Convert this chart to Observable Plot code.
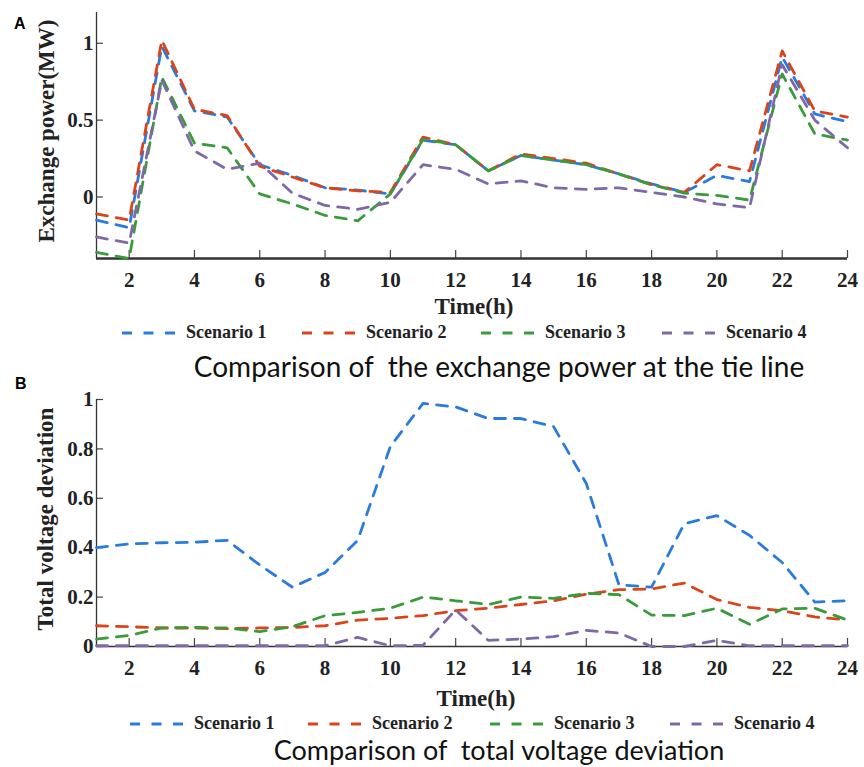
<!DOCTYPE html>
<html><head><meta charset="utf-8">
<script src="https://cdn.jsdelivr.net/npm/d3@7"></script>
<script src="https://cdn.jsdelivr.net/npm/@observablehq/plot@0.6"></script>
<style>
body{margin:0;background:#fff}
#wrap{position:relative;width:864px;height:767px;overflow:hidden;background:#fff}
.abs{position:absolute;white-space:pre}
.ser{font-family:"Liberation Serif",serif;font-weight:bold;color:#222}
.ttl{font-family:Lato,sans-serif;color:#111}
.lab{font-family:"Liberation Sans",Arial,sans-serif;font-weight:bold;font-size:16px;color:#000}
svg.plot{position:absolute;left:0}
svg.plot text{font-family:"Liberation Serif",serif;font-weight:bold}
</style></head>
<body><div id="wrap"></div>
<script>
const hours = [1,2,3,4,5,6,7,8,9,10,11,12,13,14,15,16,17,18,19,20,21,22,23,24];
const xTicks = [2,4,6,8,10,12,14,16,18,20,22,24];
const scenarioNames = ["Scenario 1","Scenario 2","Scenario 3","Scenario 4"];
const colors = ["#2a7bde","#d9441a","#3a9b3a","#7f68a8"];

// Panel A: exchange power at the tie line (MW)
const powerS1 = [-0.15,-0.20,0.98,0.56,0.52,0.21,0.14,0.06,0.045,0.02,0.37,0.34,0.17,0.27,0.24,0.21,0.15,0.085,0.03,0.14,0.10,0.91,0.54,0.49];
const powerS2 = [-0.11,-0.15,1.02,0.57,0.53,0.20,0.13,0.06,0.04,0.03,0.39,0.34,0.17,0.28,0.25,0.22,0.15,0.08,0.03,0.21,0.17,0.95,0.56,0.52];
const powerS3 = [-0.36,-0.40,0.78,0.35,0.32,0.02,-0.045,-0.12,-0.155,0.02,0.375,0.34,0.17,0.27,0.24,0.21,0.15,0.08,0.025,0.01,-0.02,0.80,0.41,0.37];
const powerS4 = [-0.26,-0.30,0.76,0.30,0.18,0.22,0.025,-0.055,-0.08,-0.035,0.21,0.18,0.085,0.105,0.06,0.05,0.06,0.03,0.0,-0.045,-0.07,0.86,0.50,0.32];
const powerTicks = [0,0.5,1];

// Panel B: total voltage deviation
const voltS1 = [0.40,0.415,0.42,0.422,0.43,0.33,0.24,0.30,0.43,0.81,0.984,0.97,0.923,0.923,0.89,0.66,0.25,0.24,0.497,0.53,0.45,0.34,0.18,0.185];
const voltS2 = [0.084,0.08,0.075,0.075,0.072,0.075,0.077,0.084,0.107,0.114,0.125,0.145,0.155,0.17,0.185,0.212,0.23,0.233,0.257,0.19,0.158,0.145,0.12,0.107];
const voltS3 = [0.03,0.045,0.075,0.077,0.075,0.06,0.08,0.125,0.138,0.155,0.2,0.185,0.17,0.2,0.195,0.215,0.21,0.127,0.125,0.155,0.09,0.152,0.155,0.107];
const voltS4 = [0.003,0.003,0.003,0.003,0.003,0.003,0.003,0.003,0.037,0.003,0.005,0.148,0.025,0.03,0.04,0.065,0.055,0.0,0.0,0.025,0.003,0.003,0.003,0.003];
const voltTicks = [0,0.2,0.4,0.6,0.8,1];

const wrap = document.getElementById("wrap");
const serif = "'Liberation Serif', 'Times New Roman', serif";

function toRows(seriesList){
  const rows = [];
  seriesList.forEach((vals, i) => vals.forEach((v, j) => rows.push({h: hours[j], v, s: i})));
  return rows;
}

function panel({series, yDomain, yTicks, top, marginTop, plotH, bottomWidth}){
  const marginLeft = 96, marginRight = 17, marginBottom = 44;
  const width = 864;
  const plotW = width - marginLeft - marginRight;
  const rows = toRows(series);
  const svg = Plot.plot({
    width, height: marginTop + plotH + marginBottom,
    marginLeft, marginRight, marginTop, marginBottom,
    x: {domain: [1, 24]},
    y: {domain: yDomain},
    style: {fontFamily: serif, fontWeight: "bold", fontSize: "21px", color: "#222", background: "transparent", overflow: "visible"},
    marks: [
      Plot.axisX(xTicks, {tickSize: 0, tickPadding: 14, label: null, fontSize: 21, fontFamily: serif, fontWeight: "bold", tickFormat: d => String(d)}),
      Plot.axisY(yTicks, {tickSize: 0, tickPadding: 3, label: null, fontSize: 21, fontFamily: serif, fontWeight: "bold", tickFormat: d => String(d)}),
      Plot.tickX(xTicks, {x: d => d, insetTop: plotH - 8, stroke: "#444", strokeWidth: 1.2}),
      Plot.tickY(yTicks, {y: d => d, insetRight: plotW - 7, stroke: "#444", strokeWidth: 1.2}),
      Plot.ruleX([1], {stroke: "#333", strokeWidth: 1.3}),
      Plot.ruleY([yDomain[0]], {stroke: "#333", strokeWidth: bottomWidth}),
      ...series.map((_, i) => Plot.line(rows.filter(r => r.s === i), {
        x: "h", y: "v", stroke: colors[i], strokeWidth: 2.8, strokeDasharray: "11,9"
      }))
    ]
  });
  svg.classList.add("plot");
  svg.style.top = top + "px";
  wrap.appendChild(svg);
}

function addText(cls, text, style){
  const d = document.createElement("div");
  d.className = "abs " + cls;
  d.textContent = text;
  Object.assign(d.style, style);
  wrap.appendChild(d);
  return d;
}

function centered(cls, text, cx, cy, fontSize){
  return addText(cls, text, {fontSize: fontSize + "px", left: cx + "px", top: cy + "px", transform: "translate(-50%,-50%)", lineHeight: "1"});
}

function yTitle(text, cx, cy){
  addText("ser", text, {fontSize: "23px", left: cx + "px", top: cy + "px", transform: "translate(-50%,-50%) rotate(-90deg)", lineHeight: "1"});
}

function legend(cy, starts){
  scenarioNames.forEach((name, i) => {
    const x = starts[i];
    const s = document.createElementNS("http://www.w3.org/2000/svg", "svg");
    s.setAttribute("width", 56); s.setAttribute("height", 8);
    s.style.position = "absolute"; s.style.left = x + "px"; s.style.top = (cy - 3) + "px";
    s.innerHTML = `<line x1="0" y1="4" x2="53" y2="4" stroke="${colors[i]}" stroke-width="3" stroke-dasharray="10,11.5"/>`;
    wrap.appendChild(s);
    addText("ser", name, {fontSize: "18px", left: (x + 64) + "px", top: cy + "px", transform: "translateY(-50%)", lineHeight: "1"});
  });
}

// Panel A
panel({series: [powerS1, powerS2, powerS3, powerS4], yDomain: [-0.4, 1.2], yTicks: powerTicks, top: 0, marginTop: 12, plotH: 246, bottomWidth: 2.6});
addText("lab", "A", {left: "14px", top: "16px", lineHeight: "1"});
yTitle("Exchange power(MW)", 46, 131);
centered("ser", "Time(h)", 474, 306, 23);
legend(332, [122, 302, 481, 662]);
centered("ttl", "Comparison of  the exchange power at the tie line", 499, 366, 28);

// Panel B
panel({series: [voltS1, voltS2, voltS3, voltS4], yDomain: [0, 1], yTicks: voltTicks, top: 385, marginTop: 14, plotH: 247, bottomWidth: 1.5});
addText("lab", "B", {left: "15px", top: "376px", lineHeight: "1"});
yTitle("Total voltage deviation", 45, 519);
centered("ser", "Time(h)", 476, 698, 23);
legend(723, [130, 308, 490, 670]);
centered("ttl", "Comparison of  total voltage deviation", 499, 749, 27);
</script>
</body></html>
